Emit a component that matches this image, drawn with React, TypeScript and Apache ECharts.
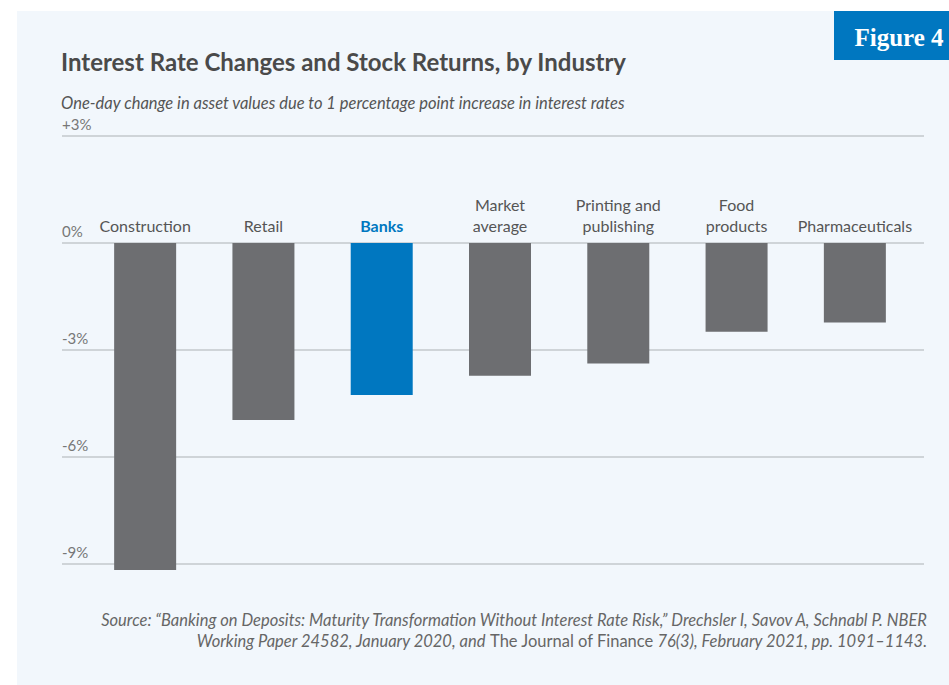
import React, { useEffect, useRef } from "react";
import * as echarts from "echarts";

const categories = [
  "Construction",
  "Retail",
  "Banks",
  "Market\naverage",
  "Printing and\npublishing",
  "Food\nproducts",
  "Pharmaceuticals",
];
const values = [-9.17, -4.96, -4.26, -3.72, -3.38, -2.49, -2.23];
const highlight = "Banks";
const yTicks = [-9, -6, -3, 0, 3];

const title = "Interest Rate Changes and Stock Returns, by Industry";
const subtitle = "One-day change in asset values due to 1 percentage point increase in interest rates";
const badge = "Figure 4";

const GRAY = "#6d6e71";
const BLUE = "#0077c0";
const BG = "#f2f7fc";
const FONT = "Lato, 'Noto Sans', sans-serif";

export default function App() {
  const ref = useRef<HTMLDivElement>(null);
  useEffect(() => {
    if (!ref.current) return;
    const chart = echarts.init(ref.current, null, { renderer: "svg" });
    const yMin = yTicks[0];
    const yMax = yTicks[yTicks.length - 1];
    chart.setOption({
      animation: false,
      backgroundColor: "#ffffff",
      textStyle: { fontFamily: FONT },
      graphic: [
        { type: "rect", z: -10, shape: { x: 17, y: 11, width: 932, height: 674 }, style: { fill: BG } },
        { type: "rect", shape: { x: 834, y: 11, width: 115, height: 49 }, style: { fill: BLUE } },
        {
          type: "text", x: 899, y: 37,
          style: { text: badge, fill: "#ffffff", font: "bold 25px 'Liberation Serif', 'DejaVu Serif', serif", align: "center", verticalAlign: "middle" },
        },
        {
          type: "text", x: 61, y: 61,
          style: { text: title, fill: "#4a4a4a", font: `bold 24px ${FONT}`, verticalAlign: "middle" },
        },
        {
          type: "text", x: 61, y: 103,
          style: { text: subtitle, fill: "#555555", font: `italic 16.5px ${FONT}`, verticalAlign: "middle" },
        },
        {
          type: "text", x: 927, y: 620,
          style: {
            text: "Source: \u201cBanking on Deposits: Maturity Transformation Without Interest Rate Risk,\u201d Drechsler I, Savov A, Schnabl P. NBER",
            fill: "#666666", font: `italic 16.5px ${FONT}`, align: "right", verticalAlign: "middle",
          },
        },
        {
          type: "text", x: 927, y: 641,
          style: {
            text: "{i|Working Paper 24582, January 2020, and }{n|The Journal of Finance}{i| 76(3), February 2021, pp. 1091\u20131143.}",
            align: "right", verticalAlign: "middle",
            rich: {
              i: { fill: "#666666", fontFamily: FONT, fontSize: 16.5, fontStyle: "italic" },
              n: { fill: "#666666", fontFamily: FONT, fontSize: 16.5, fontStyle: "normal" },
            },
          },
        },
      ],
      grid: [
        { left: 62, right: 25, top: 136, bottom: 121, containLabel: false },
        { left: 86, right: 35, top: 243, bottom: 121, containLabel: false },
      ],
      xAxis: [
        { gridIndex: 0, type: "value", show: false },
        {
          gridIndex: 1,
          type: "category",
          position: "top",
          data: categories,
          axisLine: { show: false },
          axisTick: { show: false },
          axisLabel: {
            margin: 7,
            color: "#555555",
            fontSize: 16,
            lineHeight: 21,
            fontFamily: FONT,
            interval: 0,
            formatter: (v: string) => (v === highlight ? `{b|${v}}` : v),
            rich: { b: { color: BLUE, fontWeight: "bold", fontSize: 16, fontFamily: FONT } },
          },
        },
      ],
      yAxis: [
        {
          gridIndex: 0,
          type: "value",
          min: yMin,
          max: yMax,
          interval: 3,
          axisLine: { show: false },
          axisTick: { show: false },
          splitLine: { lineStyle: { color: "#c3c8cd", width: 1.5 } },
          axisLabel: {
            inside: true,
            margin: 0,
            align: "left",
            verticalAlign: "bottom",
            padding: [0, 0, 5, 0],
            color: "#777777",
            fontSize: 15,
            fontFamily: FONT,
            formatter: (v: number) => (v > 0 ? `+${v}%` : `${v}%`),
          },
        },
        {
          gridIndex: 1,
          type: "value",
          min: yMin,
          max: 0,
          show: false,
          splitLine: { show: false },
        },
      ],
      series: [
        {
          type: "bar",
          xAxisIndex: 1,
          yAxisIndex: 1,
          barWidth: 62,
          clip: false,
          data: values.map((v, i) => ({
            value: v,
            itemStyle: { color: categories[i] === highlight ? BLUE : GRAY },
          })),
        },
      ],
    });
    return () => chart.dispose();
  }, []);
  return (
    <div
      ref={ref}
      style={{ position: "fixed", left: 0, top: 0, width: 949, height: 685 }}
    />
  );
}
